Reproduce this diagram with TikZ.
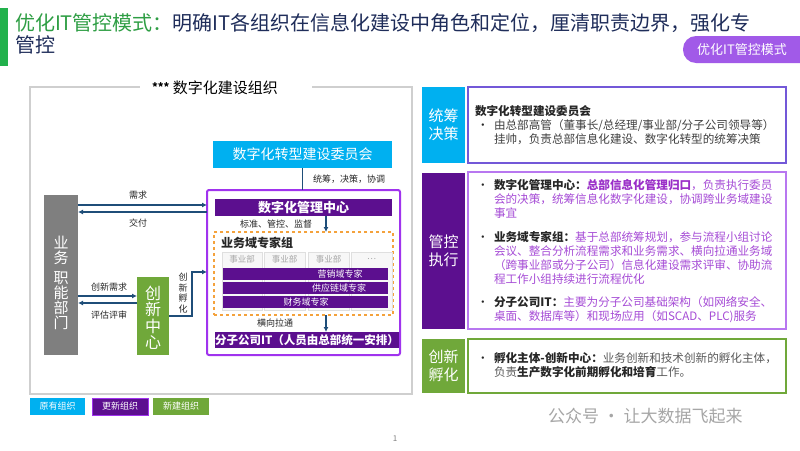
\documentclass[tikz,border=0pt]{standalone}
\usepackage{fontspec}
\setmainfont{Noto Sans CJK SC}
\usetikzlibrary{arrows.meta}
\definecolor{cyanbox}{HTML}{00B0F0}
\definecolor{dpurple}{HTML}{5C0F8F}
\definecolor{pborder}{HTML}{A033EE}
\definecolor{gbox}{HTML}{70A83A}
\definecolor{graybox}{HTML}{7F7F7F}
\definecolor{navy}{HTML}{1F4E79}
\definecolor{orangeb}{HTML}{F4A23C}
\definecolor{framegray}{HTML}{CFCFCF}
\definecolor{tgreen}{HTML}{2E9E44}
\definecolor{tnavy}{HTML}{1F2D5A}
\definecolor{btn}{HTML}{A15AE8}
\definecolor{tdark}{HTML}{262626}
\definecolor{tbody}{HTML}{404040}
\definecolor{tpurple}{HTML}{A64CD6}
\definecolor{tpurpleb}{HTML}{9A2FC8}
\definecolor{bordera}{HTML}{7358D8}
\definecolor{borderb}{HTML}{B877F0}
\definecolor{lgrayt}{HTML}{A6A6A6}
\definecolor{tgray}{HTML}{595959}
\definecolor{barg}{HTML}{22B14C}
\newcommand{\myfs}[1]{\fontsize{#1}{#1}\selectfont}
\newcommand{\rf}{\fontsize{11.6}{14.3}\selectfont}
\begin{document}
\begin{tikzpicture}[x=1pt,y=-1pt,
  every node/.style={inner sep=0pt,outer sep=0pt},
  box/.style={anchor=north west,inner sep=0pt,outer sep=0pt},
  arr/.style={draw=navy,line width=1.4pt,-{Latex[length=5pt,width=5pt]}},
  lbl/.style={font=\myfs{9},text=tdark},
  para/.style={anchor=base west,font=\rf,align=left},
  dot/.style={anchor=base west,font=\rf,text=tdark}]
\useasboundingbox[fill=white] (0,0) rectangle (800,450);
% title
\node[box,fill=barg,minimum width=8,minimum height=58] (gbar) at (0,8) {};
\node[anchor=base west,font=\myfs{20}] (title1) at (15,30) {\textcolor{tgreen}{优化IT管控模式：}\textcolor{tnavy}{明确IT各组织在信息化建设中角色和定位，厘清职责边界，强化专}};
\node[anchor=base west,font=\myfs{20},text=tnavy] (title2) at (15,52) {管控};
\node[box,fill=btn,rounded corners=13pt,minimum width=130,minimum height=27] (btn) at (683,36) {};
\node[font=\myfs{13},text=white] (btntxt) at (742,50) {优化IT管控模式};
% frame
\node[box,draw=framegray,line width=1.5pt,minimum width=382,minimum height=307] (frame) at (30,87) {};
\fill[white] (140,83) rectangle (312,92);
\node[font=\myfs{15},text=black] (ftitle) at (215,88) {\raisebox{2pt}{\myfs{11}\bfseries ***} 数字化建设组织};
% committee
\node[box,fill=cyanbox,minimum width=179,minimum height=27,font=\myfs{14},text=white] (comm) at (213,141) {数字化转型建设委员会};
\node[box,draw=pborder,line width=2pt,rounded corners=2pt,minimum width=193,minimum height=165] (pframe) at (207,190) {};
\draw[navy,line width=1.5pt] (comm.south) -- (comm.south |- pframe.north);
\node[lbl,anchor=west] (ltc) at (313,179) {统筹，决策，协调};
\node[box,fill=dpurple,minimum width=177,minimum height=17,font=\myfs{13}\bfseries,text=white] (mgmt) at (215,199) {数字化管理中心};
\node[lbl,anchor=west] (lbz) at (240,224) {标准、管控、监督};
\node[box,draw=orangeb,dashed,line width=1.2pt,minimum width=179,minimum height=83] (expert) at (214,232) {};
\draw[arr] (mgmt.south -| 326,0) -- (expert.north -| 326,0);
\node[anchor=base west,font=\myfs{12}\bfseries,text=tdark] (egt) at (221,247) {业务域专家组};
\node[box,draw=gray!25,fill=gray!6,line width=0.8pt,minimum width=40,minimum height=58] (bu1) at (222,252) {};
\node[box,draw=gray!25,fill=gray!6,line width=0.8pt,minimum width=41,minimum height=58] (bu2) at (264,252) {};
\node[box,draw=gray!25,fill=gray!6,line width=0.8pt,minimum width=41,minimum height=58] (bu3) at (308,252) {};
\node[box,draw=gray!25,fill=gray!6,line width=0.8pt,minimum width=41,minimum height=58] (bu4) at (351,252) {};
\node[font=\myfs{8.5},text=lgrayt] (bt1) at ([yshift=-7pt]bu1.north) {事业部};
\node[font=\myfs{8.5},text=lgrayt] (bt2) at ([yshift=-7pt]bu2.north) {事业部};
\node[font=\myfs{8.5},text=lgrayt] (bt3) at ([yshift=-7pt]bu3.north) {事业部};
\node[font=\myfs{8.5},text=lgrayt] (bt4) at ([yshift=-7pt]bu4.north) {…};
\node[box,fill=dpurple,minimum width=165,minimum height=12] (mkt) at (223,268) {};
\node[box,fill=dpurple,minimum width=165,minimum height=12] (scm) at (223,282) {};
\node[box,fill=dpurple,minimum width=165,minimum height=12] (fin) at (223,296) {};
\node[font=\myfs{9},text=white] (mktt) at (340,274) {营销域专家};
\node[font=\myfs{9},text=white] (scmt) at (339,288) {供应链域专家};
\node[font=\myfs{9},text=white] (fint) at (306,302) {财务域专家};
\node[box,fill=dpurple,minimum width=178,minimum height=16,font=\myfs{11.5}\bfseries,text=white] (fen) at (215,332) {分子公司IT（人员由总部统一安排）};
\node[lbl,anchor=west] (lhx) at (257,323) {横向拉通};
\draw[arr] (expert.south -| 326,0) -- (fen.north -| 326,0);
% business & innovation
\node[box,fill=graybox,minimum width=34,minimum height=160] (biz) at (44,195) {};
\node[font=\fontsize{15}{15}\selectfont,text=white,align=center] (biztxt) at (61,283) {业\\务\\[5pt]职\\能\\部\\门};
\node[box,fill=gbox,minimum width=32,minimum height=78] (inn) at (137,277) {};
\node[font=\fontsize{16}{16.5}\selectfont,text=white,align=center] (inntxt) at (153,318) {创\\新\\中\\心};
\draw[arr] (biz.east |- 0,205) -- (pframe.west |- 0,205);
\draw[arr] (pframe.west |- 0,212) -- (biz.east |- 0,212);
\node[lbl] (lxq) at (138,195) {需求};
\node[lbl] (ljf) at (138,223) {交付};
\draw[arr] (biz.east |- 0,296) -- (inn.west |- 0,296);
\draw[arr] (inn.west |- 0,303) -- (biz.east |- 0,303);
\node[lbl] (lcx) at (109,287) {创新需求};
\node[lbl] (lpg) at (109,315) {评估评审};
\draw[arr] (inn.east |- 0,316) -- (192,316) -- (192,272) -- (pframe.west |- 0,272);
\node[font=\fontsize{9}{10.5}\selectfont,text=tdark,align=center] (lfh) at (183,293) {创\\新\\孵\\化};
% right panel
\node[box,fill=cyanbox,minimum width=43,minimum height=76,font=\fontsize{15}{18}\selectfont,text=white,align=center] (lab1) at (422,87) {统筹\\决策};
\node[box,draw=bordera,line width=1.5pt,minimum width=318,minimum height=76] (box1) at (468,87) {};
\node[anchor=base west,font=\rf\bfseries,text=tdark] (b1h) at (475,115) {数字化转型建设委员会};
\node[dot] (d1) at (477,129) {•};
\node[para,text=tbody] (b1t) at (494,143.3) {由总部高管（董事长/总经理/事业部/分子公司领导等）\\挂帅，负责总部信息化建设、数字化转型的统筹决策};
\node[box,fill=dpurple,minimum width=43,minimum height=156,font=\fontsize{15}{18}\selectfont,text=white,align=center] (lab2) at (422,173) {管控\\执行};
\node[box,draw=borderb,line width=1.5pt,minimum width=318,minimum height=157] (box2) at (468,172) {};
\node[dot] (d2) at (477,189) {•};
\node[para,text=tpurple] (p1) at (494,217.6) {\textcolor{tdark}{\bfseries 数字化管理中心：}\textcolor{tpurpleb}{\bfseries 总部信息化管理归口}，负责执行委员\\会的决策，统筹信息化数字化建设，协调跨业务域建设\\事宜};
\node[dot] (d3) at (477,241) {•};
\node[para,text=tpurple] (p2) at (494,283.9) {\textcolor{tdark}{\bfseries 业务域专家组：}基于总部统筹规划，参与流程小组讨论\\会议、整合分析流程需求和业务需求、横向拉通业务域\\（跨事业部或分子公司）信息化建设需求评审、协助流\\程工作小组持续进行流程优化};
\node[dot] (d4) at (477,306) {•};
\node[para,text=tpurple] (p3) at (494,320.3) {\textcolor{tdark}{\bfseries 分子公司IT：}主要为分子公司基础架构（如网络安全、\\桌面、数据库等）和现场应用（如SCAD、PLC)服务};
\node[box,fill=gbox,minimum width=43,minimum height=54,font=\fontsize{15}{18}\selectfont,text=white,align=center] (lab3) at (422,339) {创新\\孵化};
\node[box,draw=gbox,line width=1.5pt,minimum width=318,minimum height=54] (box3) at (468,339) {};
\node[dot] (d5) at (477,362) {•};
\node[para,text=tgray] (p4) at (494,376.3) {\textcolor{tdark}{\bfseries 孵化主体-创新中心：}业务创新和技术创新的孵化主体，\\负责\textcolor{tdark}{\bfseries 生产数字化前期孵化和培育}工作。};
% legend
\node[box,fill=cyanbox,minimum width=55,minimum height=17,font=\myfs{9},text=white] (lg1) at (30,398) {原有组织};
\node[box,fill=dpurple,draw=pborder,line width=0.6pt,minimum width=56,minimum height=17,font=\myfs{9},text=white] (lg2) at (92,398) {更新组织};
\node[box,fill=gbox,minimum width=56,minimum height=17,font=\myfs{9},text=white] (lg3) at (153,398) {新建组织};
\node[font=\myfs{8},text=gray] (pg) at (395,439) {1};
\node[anchor=west,font=\myfs{17},text=gray!70] (wm) at (548,416) {公众号 · 让大数据飞起来};
\end{tikzpicture}
\end{document}
